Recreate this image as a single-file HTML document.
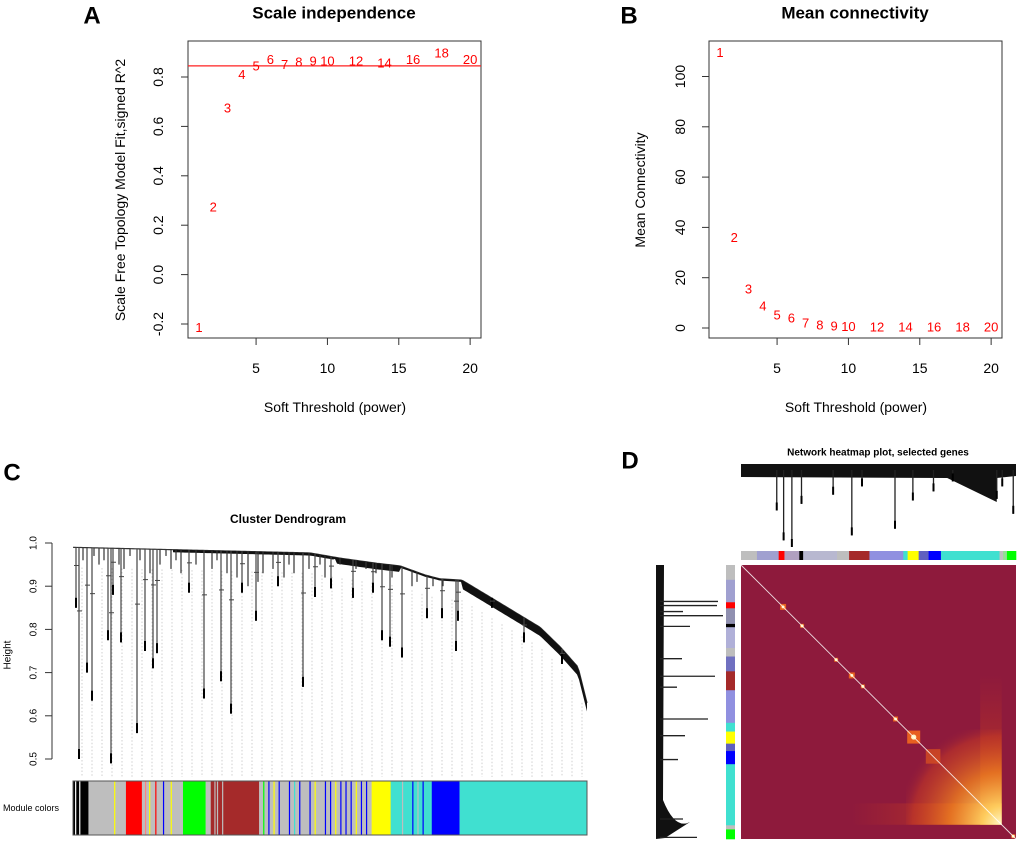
<!DOCTYPE html>
<html><head><meta charset="utf-8"><style>
html,body{margin:0;padding:0;background:#fff}
svg{display:block;font-family:"Liberation Sans",Arial,sans-serif}
</style></head><body>
<svg id="fig" width="1020" height="844" viewBox="0 0 1020 844" xmlns="http://www.w3.org/2000/svg">
<defs>
<radialGradient id="hot" cx="1" cy="1" r="1.1" gradientUnits="objectBoundingBox">
<stop offset="0" stop-color="#fff8c8" stop-opacity="1"/>
<stop offset="0.18" stop-color="#ffd060" stop-opacity="0.95"/>
<stop offset="0.5" stop-color="#f08020" stop-opacity="0.8"/>
<stop offset="0.85" stop-color="#d04020" stop-opacity="0.45"/>
<stop offset="1" stop-color="#8e1a3c" stop-opacity="0"/>
</radialGradient>
<linearGradient id="hotrow" x1="0" y1="0" x2="1" y2="0">
<stop offset="0" stop-color="#e04010" stop-opacity="0"/>
<stop offset="0.7" stop-color="#f06010" stop-opacity="0.4"/>
<stop offset="1" stop-color="#ffb040" stop-opacity="0.7"/>
</linearGradient>
<linearGradient id="hotcol" x1="0" y1="0" x2="0" y2="1">
<stop offset="0" stop-color="#e04010" stop-opacity="0"/>
<stop offset="0.7" stop-color="#f06010" stop-opacity="0.4"/>
<stop offset="1" stop-color="#ffb040" stop-opacity="0.7"/>
</linearGradient>
</defs>
<g id="gA"></g>
<g id="gB"></g>
<g id="gC"></g>
<g id="gD"></g>
</svg>
<script>
const powers=[1,2,3,4,5,6,7,8,9,10,12,14,16,18,20];
const r2Values=[-0.215,0.274,0.675,0.81,0.845,0.87,0.85,0.86,0.865,0.865,0.865,0.857,0.87,0.897,0.87];
const cutoffR2=0.845;
const meanK=[109.5,36,15.5,8.8,5.2,4,2,1.2,0.8,0.5,0.4,0.3,0.3,0.3,0.3];
const xTicks=[5,10,15,20];
const aYTicks=[-0.2,0,0.2,0.4,0.6,0.8];
const aYTickLabels=["-0.2","0.0","0.2","0.4","0.6","0.8"];
const bYTicks=[0,20,40,60,80,100];
const cYTicks=[0.5,0.6,0.7,0.8,0.9,1.0];
const cYTickLabels=["0.5","0.6","0.7","0.8","0.9","1.0"];
// dendrogram C (leaf position 0..514, merge height)
const cProfileX=[0,237,267,304,327,352,367,389,417,442,467,487,505,514];
const cProfileH=[0.99,0.977,0.965,0.953,0.947,0.926,0.917,0.914,0.875,0.84,0.805,0.76,0.713,0.63];
const cDropX=[3,6,14,19,38,35,48,40,64,72,80,84,116,131,148,158,183,169,230,205,242,258,280,300,309,317,329,354,369,383,385,419,451,489];
const cDropH=[0.85,0.50,0.70,0.635,0.49,0.775,0.77,0.88,0.56,0.75,0.71,0.745,0.885,0.64,0.68,0.605,0.82,0.885,0.667,0.90,0.875,0.895,0.873,0.885,0.775,0.76,0.735,0.826,0.826,0.75,0.82,0.85,0.77,0.72];
const cMinorX=[10,21,26,31,46,51,57,67,77,87,93,98,103,108,123,139,144,154,164,175,185,190,200,211,216,221,236,247,252,267,283,293,303,319,339,344,360,370];
const cMinorH=[0.96,0.97,0.95,0.96,0.95,0.94,0.97,0.96,0.93,0.95,0.97,0.94,0.96,0.93,0.95,0.94,0.96,0.93,0.92,0.9,0.91,0.93,0.94,0.92,0.95,0.93,0.94,0.95,0.92,0.95,0.94,0.94,0.93,0.92,0.9,0.91,0.9,0.9];
const cSegStart=[0,0.03,0.103,0.134,0.214,0.258,0.268,0.362,0.581,0.618,0.698,0.752];
const cSegEnd=[0.03,0.103,0.134,0.214,0.258,0.268,0.362,0.581,0.618,0.698,0.752,1];
const cSegColor=["#000000","#bebebe","#ff0000","#bebebe","#00ff00","#bebebe","#a52a2a","#bebebe","#ffff00","#40e0d0","#0000ff","#40e0d0"];
const cStripeX=[0.004,0.012,0.08,0.14,0.148,0.16,0.175,0.19,0.275,0.28,0.29,0.37,0.38,0.39,0.40,0.42,0.43,0.44,0.46,0.47,0.49,0.5,0.51,0.52,0.53,0.54,0.55,0.56,0.57,0.64,0.66,0.67,0.68];
const cStripeColor=["#fff","#fff","#ffff00","#ff8080","#ffff00","#ff0000","#0000ff","#ffff00","#bebebe","#bebebe","#bebebe","#00ff00","#0000ff","#ffff00","#0000ff","#0000ff","#40e0d0","#0000ff","#0000ff","#ffff00","#0000ff","#0000ff","#ffff00","#0000ff","#0000ff","#0000ff","#ffff00","#0000ff","#0000ff","#bebebe","#0000ff","#bebebe","#0000ff"];
// D panel
const dTopDropX=[0.13,0.155,0.185,0.22,0.335,0.403,0.44,0.56,0.625,0.70,0.77,0.93,0.95,0.99];
const dTopDropD=[0.56,0.92,1.0,0.48,0.37,0.86,0.27,0.78,0.44,0.33,0.21,0.42,0.27,0.6];
const dLeftY=[0.133,0.148,0.17,0.185,0.224,0.342,0.406,0.446,0.562,0.623,0.71,0.927,0.994];
const dLeftEnd=[718,717,683,723,690,682,715,677,708,685,678,683,697];
const dSegStart=[0,0.058,0.137,0.158,0.212,0.226,0.349,0.393,0.467,0.59,0.606,0.646,0.682,0.727,0.94,0.953,0.967];
const dSegEnd=[0.058,0.137,0.158,0.212,0.226,0.349,0.393,0.467,0.59,0.606,0.646,0.682,0.727,0.94,0.953,0.967,1];
const dSegColor=["#bebebe","#a0a0d0","#ff0000","#b0a0c0","#000000","#b8b8d0","#bebebe","#a52a2a","#9090e0","#40e0d0","#ffff00","#6060c0","#0000ff","#40e0d0","#bebebe","#90e090","#00ff00"];
const dLSegStart=[0,0.054,0.136,0.158,0.215,0.227,0.303,0.334,0.388,0.457,0.576,0.608,0.652,0.679,0.727,0.95,0.965];
const dLSegEnd=[0.054,0.136,0.158,0.215,0.227,0.303,0.334,0.388,0.457,0.576,0.608,0.652,0.679,0.727,0.95,0.965,1];
const dLSegColor=["#bebebe","#a0a0d0","#ff0000","#9090b0","#000000","#b0b0d8","#bebebe","#7070c0","#a52a2a","#9090e0","#40e0d0","#ffff00","#6060c0","#0000ff","#40e0d0","#bebebe","#00ff00"];
const blobPos=[0.153,0.222,0.346,0.403,0.443,0.562,0.628,0.99];
const blobSize=[6,4,4,6,4,5,13,4];

const NS="http://www.w3.org/2000/svg";
function mk(parent,tag,attrs,text){const e=document.createElementNS(NS,tag);for(const k in attrs)e.setAttribute(k,attrs[k]);if(text!==undefined)e.textContent=text;parent.appendChild(e);return e;}
function txt(p,x,y,s,size,opts){opts=opts||{};const a={x:x,y:y,"font-size":size,"text-anchor":opts.anchor||"middle","dominant-baseline":"central",fill:opts.fill||"#000"};if(opts.bold)a["font-weight"]="bold";if(opts.rot)a.transform="rotate(-90 "+x+" "+y+")";return mk(p,"text",a,s);}

// ---------- Panel A ----------
const gA=document.getElementById("gA");
const axA=v=>199+(v-1)*14.27, ayA=v=>274.6-v*247;
let t=txt(gA,92,16,"A",24,{bold:true});

t=txt(gA,334,13,"Scale independence",17,{bold:true});

let e=mk(gA,"rect",{x:188,y:41,width:293,height:297,fill:"none",stroke:"#333","stroke-width":1});

aYTicks.forEach((v,i)=>{mk(gA,"line",{x1:181,x2:188,y1:ayA(v),y2:ayA(v),stroke:"#333"});
 t=txt(gA,158,ayA(v),aYTickLabels[i],14,{rot:true});
 });
xTicks.forEach(v=>{mk(gA,"line",{x1:axA(v),x2:axA(v),y1:338,y2:345,stroke:"#333"});
 t=txt(gA,axA(v),368,String(v),14);
 });
t=txt(gA,335,407,"Soft Threshold (power)",14);

t=txt(gA,120,190,"Scale Free Topology Model Fit,signed R^2",14,{rot:true});

e=mk(gA,"line",{x1:188,x2:481,y1:ayA(cutoffR2),y2:ayA(cutoffR2),stroke:"#ff2020","stroke-width":1.3});

powers.forEach((p,i)=>{t=txt(gA,axA(p),ayA(r2Values[i]),String(p),13,{fill:"#ff0000"});
 });

// ---------- Panel B ----------
const gB=document.getElementById("gB");
const axB=v=>720+(v-1)*14.27, ayB=v=>328-v*2.515;
t=txt(gB,629,16,"B",24,{bold:true});

t=txt(gB,855,13,"Mean connectivity",17,{bold:true});

e=mk(gB,"rect",{x:709,y:41,width:293,height:297,fill:"none",stroke:"#333","stroke-width":1});

bYTicks.forEach(v=>{mk(gB,"line",{x1:702,x2:709,y1:ayB(v),y2:ayB(v),stroke:"#333"});
 t=txt(gB,680,ayB(v),String(v),14,{rot:true});
 });
xTicks.forEach(v=>{mk(gB,"line",{x1:axB(v),x2:axB(v),y1:338,y2:345,stroke:"#333"});
 t=txt(gB,axB(v),368,String(v),14);
 });
t=txt(gB,856,407,"Soft Threshold (power)",14);

t=txt(gB,640,190,"Mean Connectivity",14,{rot:true});

powers.forEach((p,i)=>{t=txt(gB,axB(p),ayB(meanK[i]),String(p),13,{fill:"#ff0000"});
 });

// ---------- Panel C ----------
const gC=document.getElementById("gC");
const cx=u=>73+u, cy=h=>543+(1.0-h)*432, cf=f=>73+f*514;
function prof(u){for(let i=1;i<cProfileX.length;i++){if(u<=cProfileX[i]){const a=(u-cProfileX[i-1])/(cProfileX[i]-cProfileX[i-1]);return cProfileH[i-1]+a*(cProfileH[i]-cProfileH[i-1]);}}return cProfileH[cProfileH.length-1];}
t=txt(gC,12,473,"C",24,{bold:true});

t=txt(gC,288,519,"Cluster Dendrogram",12,{bold:true});

mk(gC,"line",{x1:52,x2:52,y1:cy(1.0),y2:cy(0.5),stroke:"#333"});
cYTicks.forEach((v,i)=>{mk(gC,"line",{x1:45,x2:52,y1:cy(v),y2:cy(v),stroke:"#333"});
 t=txt(gC,34,cy(v),cYTickLabels[i],10,{rot:true});
 });
t=txt(gC,8,655,"Height",10,{rot:true});

for(let x=82;x<587;x+=10){mk(gC,"line",{x1:x,x2:x,y1:cy(prof(x-73))+20,y2:777,stroke:"#bbb","stroke-width":0.7,"stroke-dasharray":"1.5,2"});}
let pts=[];
for(let u=0;u<=514;u+=2){pts.push(cx(u)+","+cy(prof(u)));}
e=mk(gC,"polyline",{points:pts.join(" "),fill:"none",stroke:"#333","stroke-width":1.2});

function thick(u){if(u>262&&u<327)return 0.014;if(u>389)return 0.02;if(u<262)return 0.006;return 0.004;}
let up=[],dn=[];
for(let u=100;u<=514;u+=2){up.push(cx(u)+","+cy(prof(u)));dn.push(cx(u)+","+cy(prof(u)-thick(u)));}
e=mk(gC,"polygon",{points:up.join(" ")+" "+dn.reverse().join(" "),fill:"#111"});

cMinorX.forEach((u,i)=>{e=mk(gC,"line",{x1:cx(u),x2:cx(u),y1:cy(prof(u)),y2:cy(cMinorH[i]),stroke:"#333","stroke-width":1.2});
 });
cDropX.forEach((u,i)=>{const h=cDropH[i];const top=prof(u);
 e=mk(gC,"line",{x1:cx(u),x2:cx(u),y1:cy(top),y2:cy(h),stroke:"#444","stroke-width":1.2});
 
 mk(gC,"line",{x1:cx(u),x2:cx(u),y1:cy(h)-10,y2:cy(h),stroke:"#000","stroke-width":2});
 mk(gC,"line",{x1:cx(u)-2,x2:cx(u)+3,y1:cy(top+(h-top)*0.3),y2:cy(top+(h-top)*0.3),stroke:"#444","stroke-width":1});});
t=txt(gC,31,808,"Module colors",9);

cSegStart.forEach((s,i)=>{e=mk(gC,"rect",{x:cf(s),y:781,width:cf(cSegEnd[i])-cf(s)+0.3,height:54,fill:cSegColor[i]});
 });
cStripeX.forEach((f,i)=>{mk(gC,"rect",{x:cf(f),y:781,width:1.2,height:54,fill:cStripeColor[i]});});
mk(gC,"rect",{x:73,y:781,width:514,height:54,fill:"none",stroke:"#555","stroke-width":1});

// ---------- Panel D ----------
const gD=document.getElementById("gD");
const dx=f=>741+f*275, dy=f=>565+f*274;
t=txt(gD,630,461,"D",24,{bold:true});

t=txt(gD,878,453,"Network heatmap plot, selected genes",10,{bold:true});

e=mk(gD,"polygon",{points:`${dx(0)},464 ${dx(1)},464 ${dx(1)},476 ${dx(0.93)},478 ${dx(0.93)},502 ${dx(0.75)},478 ${dx(0)},477`,fill:"#111"});

dTopDropX.forEach((f,i)=>{e=mk(gD,"line",{x1:dx(f),x2:dx(f),y1:470,y2:464+dTopDropD[i]*83,stroke:"#222","stroke-width":1.3});
 
 mk(gD,"line",{x1:dx(f),x2:dx(f),y1:464+dTopDropD[i]*83-8,y2:464+dTopDropD[i]*83,stroke:"#000","stroke-width":2});});
dSegStart.forEach((s,i)=>{e=mk(gD,"rect",{x:dx(s),y:551,width:dx(dSegEnd[i])-dx(s)+0.3,height:9,fill:dSegColor[i]});
 });
e=mk(gD,"path",{d:`M656 565 L664 565 L663 800 Q675 830 690 822 L665 838 L656 839 Z`,fill:"#111"});

dLeftY.forEach((f,i)=>{e=mk(gD,"line",{x1:660,x2:dLeftEnd[i],y1:dy(f),y2:dy(f),stroke:"#222","stroke-width":1.3});
 });
dLSegStart.forEach((s,i)=>{e=mk(gD,"rect",{x:726,y:dy(s),width:9,height:dy(dLSegEnd[i])-dy(s)+0.3,fill:dLSegColor[i]});
 });
e=mk(gD,"rect",{x:741,y:565,width:275,height:274,fill:"#8e1a3c"});

mk(gD,"rect",{x:dx(0.4),y:dy(0.87),width:dx(0.948)-dx(0.4),height:dy(0.948)-dy(0.87),fill:"url(#hotrow)"});
mk(gD,"rect",{x:dx(0.87),y:dy(0.4),width:dx(0.948)-dx(0.87),height:dy(0.948)-dy(0.4),fill:"url(#hotcol)"});
e=mk(gD,"rect",{x:dx(0.6),y:dy(0.6),width:dx(0.948)-dx(0.6),height:dy(0.948)-dy(0.6),fill:"url(#hot)"});

e=mk(gD,"rect",{x:dx(0.672),y:dy(0.672),width:dx(0.725)-dx(0.672),height:dy(0.725)-dy(0.672),fill:"#d85020",opacity:0.75});

blobPos.forEach((f,i)=>{e=mk(gD,"rect",{x:dx(f)-blobSize[i]/2,y:dy(f)-blobSize[i]/2,width:blobSize[i],height:blobSize[i],fill:"#e86020"});
 
 mk(gD,"circle",{cx:dx(f),cy:dy(f),r:Math.max(1.5,blobSize[i]/5),fill:"#fff6c0"});});
e=mk(gD,"line",{x1:741,y1:565,x2:1016,y2:839,stroke:"#fff","stroke-width":0.9,opacity:0.85});

</script>
</body></html>
